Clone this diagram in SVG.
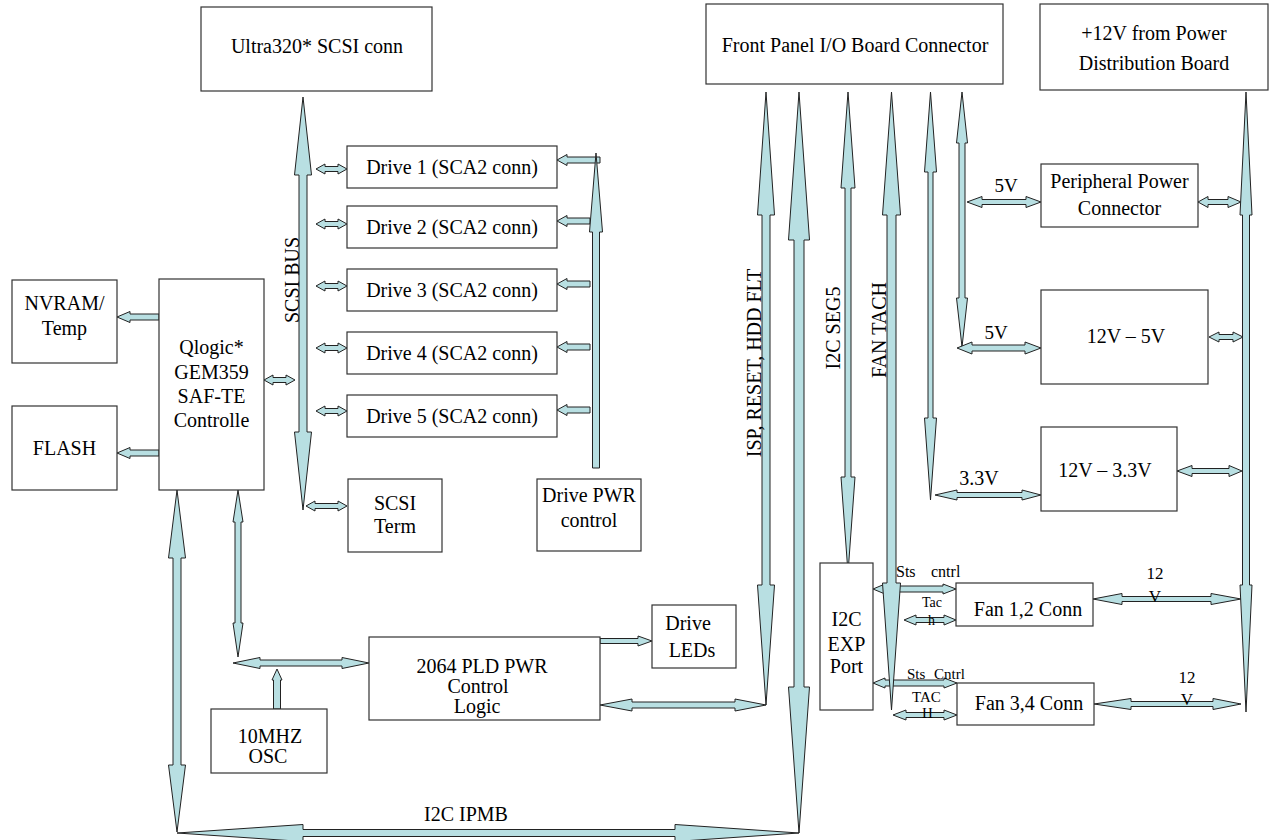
<svg xmlns="http://www.w3.org/2000/svg" width="1273" height="840" viewBox="0 0 1273 840">
<style>
.box{fill:#fff;stroke:#333;stroke-width:1.2}
.t{font-family:"Liberation Serif","Times New Roman",serif;font-size:20px;fill:#000;text-anchor:middle}
.s{font-family:"Liberation Serif","Times New Roman",serif;fill:#000}
.ar{fill:#b8dfe2;stroke:#222;stroke-width:1;stroke-linejoin:miter}
</style>
<rect width="1273" height="840" fill="#fff"/>
<g id="connectors">
<polygon class="ar" points="303,97 311.5,175 307,175 307,432 311.5,432 303,510 294.5,432 299,432 299,175 294.5,175"/>
<polygon class="ar" points="316,169 325,164 325,166.5 338,166.5 338,164 347,169 338,174 338,171.5 325,171.5 325,174"/>
<polygon class="ar" points="316,224 325,219 325,221.5 338,221.5 338,219 347,224 338,229 338,226.5 325,226.5 325,229"/>
<polygon class="ar" points="316,286 325,281 325,283.5 338,283.5 338,281 347,286 338,291 338,288.5 325,288.5 325,291"/>
<polygon class="ar" points="316,348 325,343 325,345.5 338,345.5 338,343 347,348 338,353 338,350.5 325,350.5 325,353"/>
<polygon class="ar" points="316,411 325,406 325,408.5 338,408.5 338,406 347,411 338,416 338,413.5 325,413.5 325,416"/>
<polygon class="ar" points="306,506 315,501 315,503.5 338,503.5 338,501 347,506 338,511 338,508.5 315,508.5 315,511"/>
<polygon class="ar" points="557,160 567,154.5 567,157 600,157 600,163 567,163 567,165.5"/>
<polygon class="ar" points="557,221 567,215.5 567,218 590,218 590,224 567,224 567,226.5"/>
<polygon class="ar" points="557,284 567,278.5 567,281 590,281 590,287 567,287 567,289.5"/>
<polygon class="ar" points="557,347 567,341.5 567,344 590,344 590,350 567,350 567,352.5"/>
<polygon class="ar" points="557,410 567,404.5 567,407 590,407 590,413 567,413 567,415.5"/>
<polygon class="ar" points="596,153 602.5,232 599.5,232 599.5,468 592.5,468 592.5,232 589.5,232"/>
<polygon class="ar" points="117,317 130,311.5 130,314 159,314 159,320 130,320 130,322.5"/>
<polygon class="ar" points="117,453 130,447.5 130,450 159,450 159,456 130,456 130,458.5"/>
<polygon class="ar" points="264,380 273,375 273,377.5 286,377.5 286,375 295,380 286,385 286,382.5 273,382.5 273,385"/>
<polygon class="ar" points="177,490 185.5,558 181,558 181,765 185.5,765 177,832 168.5,765 173,765 173,558 168.5,558"/>
<polygon class="ar" points="177,833 303,824.5 303,829.5 675,829.5 675,824.5 799,833 675,841.5 675,836.5 303,836.5 303,841.5"/>
<polygon class="ar" points="238,490 243,522 241,522 241,623 243,623 238,657 233,623 235,623 235,522 233,522"/>
<polygon class="ar" points="233,663 260,657.5 260,660 342,660 342,657.5 369,663 342,668.5 342,666 260,666 260,668.5"/>
<polygon class="ar" points="277,669 282,680 280.5,680 280.5,709 273.5,709 273.5,680 272,680"/>
<polygon class="ar" points="652,641 638,636 638,638.5 600,638.5 600,643.5 638,643.5 638,646"/>
<polygon class="ar" points="600,705 632,699 632,702 735,702 735,699 766,705 735,711 735,708 632,708 632,711"/>
<polygon class="ar" points="766,92 774.5,215 770,215 770,585 774.5,585 766,705 757.5,585 762,585 762,215 757.5,215"/>
<polygon class="ar" points="799,92 809.5,240 804,240 804,687 809.5,687 799,833 788.5,687 794,687 794,240 788.5,240"/>
<polygon class="ar" points="848,92 855,188 851,188 851,477 855,477 848,573 841,477 845,477 845,188 841,188"/>
<polygon class="ar" points="873,589 885,584 885,586 943,586 943,584 956,589 943,594 943,592 885,592 885,594"/>
<polygon class="ar" points="873,683 885,678 885,680 944,680 944,678 957,683 944,688 944,686 885,686 885,688"/>
<polygon class="ar" points="891.5,92 900.5,215 896,215 896,583 900.5,583 891.5,710 882.5,583 887,583 887,215 882.5,215"/>
<polygon class="ar" points="904,620 916,615 916,617.5 944,617.5 944,615 956,620 944,625 944,622.5 916,622.5 916,625"/>
<polygon class="ar" points="893,715 906,710 906,712.5 944,712.5 944,710 957,715 944,720 944,717.5 906,717.5 906,720"/>
<polygon class="ar" points="930.5,92 936.5,172 933,172 933,418 936.5,418 930.5,500 924.5,418 928,418 928,172 924.5,172"/>
<polygon class="ar" points="962,92 967.5,143 965,143 965,298 967.5,298 962,347 956.5,298 959,298 959,143 956.5,143"/>
<polygon class="ar" points="967,202 982,196.5 982,199.5 1026,199.5 1026,196.5 1041,202 1026,207.5 1026,204.5 982,204.5 982,207.5"/>
<polygon class="ar" points="1198,202 1208,196.5 1208,199.5 1228,199.5 1228,196.5 1241,202 1228,207.5 1228,204.5 1208,204.5 1208,207.5"/>
<polygon class="ar" points="957,348 972,342 972,345 1025,345 1025,342 1041,348 1025,354 1025,351 972,351 972,354"/>
<polygon class="ar" points="1209,337 1219,332 1219,334.5 1233,334.5 1233,332 1243,337 1233,342 1233,339.5 1219,339.5 1219,342"/>
<polygon class="ar" points="935,495 957,490 957,492.5 1022,492.5 1022,490 1041,495 1022,500 1022,497.5 957,497.5 957,500"/>
<polygon class="ar" points="1177,471 1192,465.5 1192,468.5 1229,468.5 1229,465.5 1242,471 1229,476.5 1229,473.5 1192,473.5 1192,476.5"/>
<polygon class="ar" points="1093,599 1122,593.5 1122,596.5 1211,596.5 1211,593.5 1241,599 1211,604.5 1211,601.5 1122,601.5 1122,604.5"/>
<polygon class="ar" points="1094,704 1131,698.5 1131,701.5 1213,701.5 1213,698.5 1241,704 1213,709.5 1213,706.5 1131,706.5 1131,709.5"/>
<polygon class="ar" points="1246,92 1252,215 1249.5,215 1249.5,585 1252,585 1246,712 1240,585 1242.5,585 1242.5,215 1240,215"/>
</g>
<g id="connector-labels">
<text class="t" transform="translate(299,280) rotate(-90)">SCSI BUS</text>
<text class="t" transform="translate(761,363) rotate(-90)">ISP, RESET, HDD FLT</text>
<text class="t" transform="translate(840,328) rotate(-90)">I2C SEG5</text>
<text class="t" transform="translate(886,330) rotate(-90)">FAN TACH</text>
<text class="t" x="466" y="821">I2C IPMB</text>
<text class="t" x="1006" y="192" style="font-size:19px">5V</text>
<text class="t" x="996" y="339" style="font-size:19px">5V</text>
<text class="t" x="979" y="485">3.3V</text>
<text class="t" x="1155" y="579" style="font-size:17px">12</text>
<text class="t" x="1155" y="602" style="font-size:17px">V</text>
<text class="t" x="1187" y="683" style="font-size:17px">12</text>
<text class="t" x="1187" y="705" style="font-size:17px">V</text>
<text class="s" y="577" style="font-size:16px"><tspan x="896">Sts </tspan><tspan x="931">cntrl</tspan></text>
<text class="s" x="922" y="607" style="font-size:14px">Tac</text>
<text class="s" x="928" y="625" style="font-size:14px">h</text>
<text class="s" y="679" style="font-size:15px"><tspan x="907">Sts </tspan><tspan x="934">Cntrl</tspan></text>
<text class="s" x="912" y="702" style="font-size:15px">TAC</text>
<text class="s" x="922" y="718" style="font-size:15px">H</text>
</g>
<g id="ultra320"><rect class="box" x="201" y="7" width="231" height="84"/><text class="t" x="317" y="53">Ultra320* SCSI conn</text></g>
<g id="front-panel"><rect class="box" x="706" y="4" width="297" height="80"/><text class="t" x="855" y="52">Front Panel I/O Board Connector</text></g>
<g id="pwr-12v"><rect class="box" x="1040" y="4" width="228" height="86"/><text class="t" x="1154" y="40">+12V from Power</text><text class="t" x="1154" y="70">Distribution Board</text></g>
<g id="drive1"><rect class="box" x="347" y="146" width="210" height="42"/><text class="t" x="452" y="174">Drive 1 (SCA2 conn)</text></g>
<g id="drive2"><rect class="box" x="347" y="206" width="210" height="42"/><text class="t" x="452" y="234">Drive 2 (SCA2 conn)</text></g>
<g id="drive3"><rect class="box" x="347" y="269" width="210" height="42"/><text class="t" x="452" y="297">Drive 3 (SCA2 conn)</text></g>
<g id="drive4"><rect class="box" x="347" y="332" width="210" height="42"/><text class="t" x="452" y="360">Drive 4 (SCA2 conn)</text></g>
<g id="drive5"><rect class="box" x="347" y="395" width="210" height="42"/><text class="t" x="452" y="423">Drive 5 (SCA2 conn)</text></g>
<g id="scsi-term"><rect class="box" x="348" y="479" width="94" height="73"/><text class="t" x="395" y="510">SCSI</text><text class="t" x="395" y="533">Term</text></g>
<g id="drive-pwr"><rect class="box" x="537" y="479" width="104" height="72"/><text class="t" x="589" y="502">Drive PWR</text><text class="t" x="589" y="527">control</text></g>
<g id="nvram"><rect class="box" x="12" y="280" width="105" height="83"/><text class="t" x="64.5" y="310">NVRAM/</text><text class="t" x="64.5" y="335">Temp</text></g>
<g id="flash"><rect class="box" x="12" y="406" width="105" height="84"/><text class="t" x="64.5" y="455">FLASH</text></g>
<g id="qlogic"><rect class="box" x="159" y="279" width="105" height="211"/><text class="t" x="211.5" y="354">Qlogic*</text><text class="t" x="211.5" y="379">GEM359</text><text class="t" x="211.5" y="403">SAF-TE</text><text class="t" x="211.5" y="427">Controlle</text></g>
<g id="osc"><rect class="box" x="211" y="709" width="116" height="64"/><text class="t" x="270" y="743">10MHZ</text><text class="t" x="268" y="763">OSC</text></g>
<g id="pld"><rect class="box" x="369" y="637" width="231" height="83"/><text class="t" x="482" y="673">2064 PLD PWR</text><text class="t" x="478" y="693">Control</text><text class="t" x="477" y="713">Logic</text></g>
<g id="drive-leds"><rect class="box" x="652" y="605" width="84" height="63"/><text class="t" x="688" y="630">Drive</text><text class="t" x="692" y="657">LEDs</text></g>
<g id="i2c-exp"><rect class="box" x="820" y="563" width="53" height="147"/><text class="t" x="846.5" y="626">I2C</text><text class="t" x="846.5" y="651">EXP</text><text class="t" x="846.5" y="673">Port</text></g>
<g id="fan12"><rect class="box" x="956" y="583" width="137" height="43"/><text class="t" x="1028" y="616">Fan 1,2 Conn</text></g>
<g id="fan34"><rect class="box" x="957" y="683" width="137" height="42"/><text class="t" x="1029" y="710">Fan 3,4 Conn</text></g>
<g id="peripheral"><rect class="box" x="1041" y="164" width="157" height="63"/><text class="t" x="1119.5" y="188">Peripheral Power</text><text class="t" x="1119.5" y="215">Connector</text></g>
<g id="reg5v"><rect class="box" x="1041" y="290" width="167" height="94"/><text class="t" x="1126" y="343">12V – 5V</text></g>
<g id="reg33v"><rect class="box" x="1041" y="427" width="136" height="84"/><text class="t" x="1105" y="477">12V – 3.3V</text></g>
</svg>
